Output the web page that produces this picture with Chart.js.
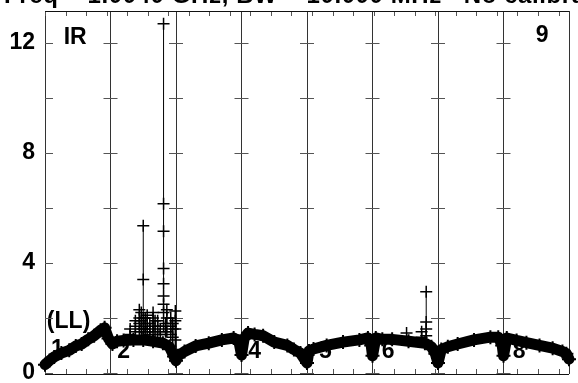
<!DOCTYPE html>
<html>
<head>
<meta charset="utf-8">
<script src="https://cdn.jsdelivr.net/npm/chart.js@4.4.1/dist/chart.umd.min.js"></script>
<style>
  html, body { margin: 0; padding: 0; background: #fff; overflow: hidden; }
  #wrap { position: relative; width: 578px; height: 383px; overflow: hidden; }
  #plot { display: block; }
  #title {
    position: absolute; left: 4px; top: -17px;
    font: bold 24px "Liberation Sans", Arial, sans-serif;
    line-height: 24px; letter-spacing: 0.6px;
    white-space: pre; color: #000;
  }
</style>
</head>
<body>
<div id="wrap">
  <canvas id="plot" width="578" height="383"></canvas>
  <div id="title">Freq = 1.0040 GHz, BW = 10.000 MHz   No calibration</div>
</div>
<script>
// measured series (x in channel units, 1 unit per channel scan)
const bandX = [0.00, 0.07, 0.14, 0.25, 0.37, 0.47, 0.56, 0.66, 0.75, 0.85, 0.91, 0.97, 1.03,
  1.10, 1.20, 1.35, 1.50, 1.65, 1.80, 1.90, 1.97, 2.00,
  2.03, 2.13, 2.30, 2.50, 2.70, 2.88, 2.96, 3.00,
  3.04, 3.10, 3.20, 3.33, 3.50, 3.70, 3.80, 3.90, 4.00,
  4.03, 4.10, 4.30, 4.55, 4.80, 4.93, 4.98, 5.00,
  5.05, 5.15, 5.30, 5.55, 5.80, 5.90, 5.96, 6.00,
  6.05, 6.15, 6.30, 6.55, 6.80, 6.92, 6.98, 7.00,
  7.05, 7.20, 7.35, 7.55, 7.75, 7.90, 7.96, 8.00];
const bandY = [0.30, 0.45, 0.58, 0.72, 0.82, 0.98, 1.05, 1.22, 1.35, 1.55, 1.64, 1.25, 1.05,
  1.15, 1.18, 1.20, 1.20, 1.15, 1.08, 0.95, 0.60, 0.44,
  0.62, 0.78, 0.98, 1.08, 1.20, 1.27, 1.15, 0.65,
  1.25, 1.45, 1.40, 1.35, 1.12, 1.00, 0.85, 0.72, 0.36,
  0.80, 0.87, 1.00, 1.12, 1.20, 1.27, 1.00, 0.62,
  1.27, 1.22, 1.22, 1.15, 1.08, 0.95, 0.70, 0.36,
  0.85, 0.95, 1.05, 1.20, 1.30, 1.30, 1.00, 0.62,
  1.27, 1.18, 1.10, 1.00, 0.90, 0.78, 0.70, 0.50];

// outlier bursts: position and the readings stacked at it
const spikeX = [1.30, 1.38, 1.44, 1.47, 1.50, 1.53, 1.56, 1.60, 1.65, 1.68, 1.72, 1.76,
  1.81, 1.84, 1.86, 1.92, 1.95, 1.99, 5.52, 5.75, 5.82];
const spikeVals = [
  [1.4, 1.6],
  [1.5, 1.7, 1.9],
  [1.5, 1.8, 2.0, 2.3],
  [1.6, 1.9, 2.2],
  [1.6, 2.0, 3.4, 5.35],
  [1.5, 1.7, 2.0],
  [1.5, 1.8, 2.1],
  [1.4, 1.6, 1.8],
  [1.5, 1.7, 2.0, 2.2],
  [1.5, 1.9],
  [1.4, 1.7, 1.9],
  [1.4, 1.6],
  [1.7, 2.2, 2.5, 2.8, 3.24, 3.8, 5.15, 6.15, 12.7],
  [1.5, 1.8],
  [1.5, 2.0, 2.3],
  [1.4, 1.7, 2.0],
  [1.3, 1.6, 1.8],
  [1.2, 1.6, 1.9, 2.25],
  [1.45],
  [1.3, 1.5],
  [1.35, 1.6, 1.85, 2.95]
];

const yTicks = [0, 2, 4, 6, 8, 10, 12];
const yLabels = [0, 4, 8, 12];
const xMin = 0, xMax = 8;
const xMinorStep = 0.3136;

const notes = ["IR", "9", "(LL)", "1", "2", "4", "5", "6", "8"];
const noteX = [0.46, 7.59, 0.36, 0.19, 1.2, 3.2, 4.28, 5.24, 7.24];
const noteY = [12.18, 12.25, 1.88, 0.84, 0.76, 0.78, 0.76, 0.76, 0.76];

const FONT = '"Liberation Sans", Arial, sans-serif';
const FONT_SIZE = 23;

function buildBand() {
  return bandX.map((x, i) => ({ x: x, y: bandY[i] }));
}

function buildSpikes() {
  const pts = [];
  spikeX.forEach((x, i) => {
    spikeVals[i].forEach(v => pts.push({ x: x, y: v }));
    pts.push({ x: x, y: null });
  });
  return pts;
}

const framePlugin = {
  id: "frame",
  beforeDatasetsDraw(chart) {
    const { ctx, chartArea: a } = chart;
    const xs = chart.scales.x, ys = chart.scales.y;
    ctx.save();

    ctx.font = "bold " + FONT_SIZE + "px " + FONT;
    ctx.fillStyle = "#000";
    ctx.textAlign = "center";
    ctx.textBaseline = "middle";
    notes.forEach((t, i) => {
      ctx.fillText(t, xs.getPixelForValue(noteX[i]), ys.getPixelForValue(noteY[i]));
    });

    ctx.strokeStyle = "#555";
    ctx.lineWidth = 1;
    ctx.beginPath();
    for (let k = 0; k * xMinorStep <= xMax + 1e-6; k++) {
      const px = Math.round(xs.getPixelForValue(k * xMinorStep)) + 0.5;
      ctx.moveTo(px, a.top); ctx.lineTo(px, a.top + 5);
      ctx.moveTo(px, a.bottom); ctx.lineTo(px, a.bottom - 5);
    }
    yTicks.forEach(v => {
      const py = Math.round(ys.getPixelForValue(v)) + 0.5;
      ctx.moveTo(a.left, py); ctx.lineTo(a.left + 8, py);
      for (let k = xMin + 1; k < xMax; k++) {
        const gx = xs.getPixelForValue(k);
        ctx.moveTo(gx - 7, py); ctx.lineTo(gx + 7, py);
      }
    });
    ctx.stroke();

    ctx.strokeStyle = "#111";
    ctx.beginPath();
    ctx.moveTo(a.left, a.top + 0.5); ctx.lineTo(a.right, a.top + 0.5);
    ctx.moveTo(a.left, a.bottom + 0.5); ctx.lineTo(a.right, a.bottom + 0.5);
    ctx.stroke();
    ctx.restore();
  }
};

const ctx = document.getElementById("plot").getContext("2d");

new Chart(ctx, {
  type: "line",
  data: {
    datasets: [
      {
        label: "outliers",
        data: buildSpikes(),
        borderColor: "#000",
        borderWidth: 1,
        pointStyle: "cross",
        pointRadius: 6,
        pointBorderWidth: 1.5,
        pointBorderColor: "#000",
        spanGaps: false,
        clip: false
      },
      {
        label: "IR (LL)",
        data: buildBand(),
        borderColor: "#000",
        borderWidth: 11,
        borderJoinStyle: "round",
        borderCapStyle: "round",
        pointStyle: "cross",
        pointRadius: 7,
        pointBorderWidth: 2,
        pointBorderColor: "#000",
        clip: false
      }
    ]
  },
  options: {
    responsive: false,
    animation: false,
    devicePixelRatio: 1,
    parsing: false,
    layout: { padding: { top: 11, right: 0, left: 0, bottom: 0 } },
    plugins: {
      legend: { display: false },
      title: { display: false },
      tooltip: { enabled: false }
    },
    scales: {
      x: {
        type: "linear",
        min: xMin,
        max: xMax,
        ticks: { display: false, stepSize: 1 },
        grid: { color: "#333", lineWidth: 1, drawTicks: false },
        border: { display: false },
        afterFit(s) { s.height = 8; s.paddingLeft = 0; s.paddingRight = 0; }
      },
      y: {
        type: "linear",
        min: -0.04,
        max: 13.16,
        afterBuildTicks(s) { s.ticks = yTicks.map(v => ({ value: v })); },
        ticks: {
          padding: 10,
          color: "#000",
          font: { family: FONT, size: FONT_SIZE, weight: "bold" },
          callback: v => (yLabels.includes(v) ? String(v) : "")
        },
        grid: { display: false, drawTicks: false },
        border: { display: false },
        afterFit(s) { s.width = 45; s.paddingTop = 0; s.paddingBottom = 0; }
      }
    }
  },
  plugins: [framePlugin]
});
</script>
</body>
</html>
